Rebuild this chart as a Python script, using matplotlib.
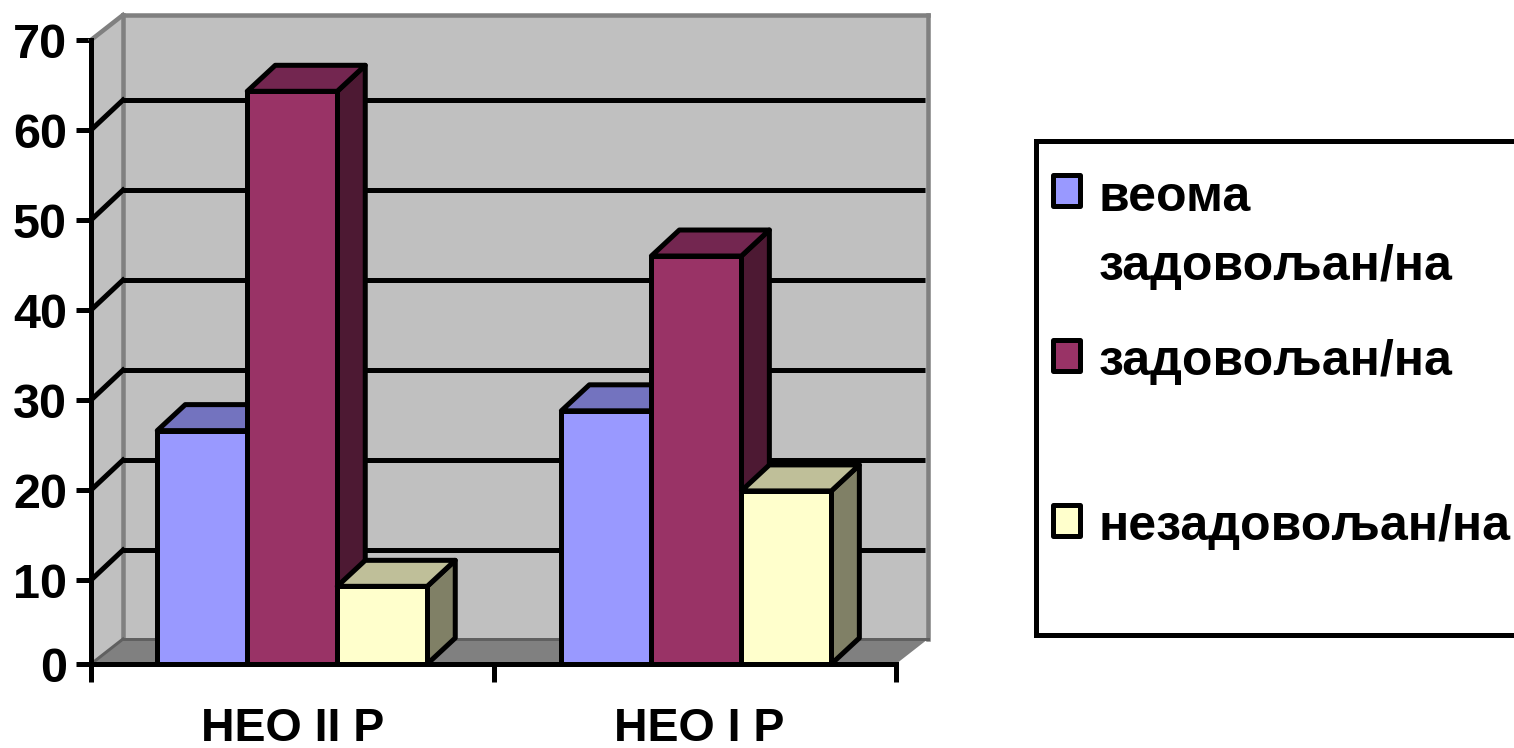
import matplotlib
matplotlib.use("Agg")
import matplotlib.pyplot as plt
from matplotlib.patches import Rectangle

# values
groups = ["НЕО II Р", "НЕО I Р"]
series = ["веома\nзадовољан/на", "задовољан/на", "незадовољан/на"]
vals_very = [26.6, 28.8]
vals_ok = [64.3, 46]
vals_not = [9.3, 19.9]
yticks = [10, 20, 30, 40, 50, 60, 70]

front = ["#9999FF", "#993366", "#FFFFCC"]
top = ["#7373BF", "#732650", "#BFBF99"]
side = ["#4D4D80", "#4D1933", "#808066"]

W, H = 1514, 748
px = 0.72  # points per pixel at dpi 100
lw = 5 * px

# the floor of the chart sits a little above the value 0
floor = 0.67

fig = plt.figure(figsize=(W / 100, H / 100), dpi=100, facecolor="white")
ax = fig.add_axes([91 / W, 1 - 664 / H, 805 / W, 624 / H])
ax.set_xlim(0, 2)
ax.set_ylim(floor, 70)
ax.patch.set_visible(False)

# pixel sizes turned into data units
ux = 2 / 805
uy = (70 - floor) / 624
wall_dx, wall_dy = 32 * ux, 25 * uy
grid_dy = 30 * uy
bar_dx, bar_dy = 28 * ux, 26 * uy
bar_w = 90 * ux

# walls and floor
ax.fill([0, wall_dx, wall_dx, 0], [floor, floor + wall_dy, 70 + wall_dy, 70], color="#C0C0C0", lw=0,
        clip_on=False, zorder=1)
ax.fill([wall_dx, 2 + wall_dx, 2 + wall_dx, wall_dx], [floor + wall_dy, floor + wall_dy, 70 + wall_dy, 70 + wall_dy],
        color="#C0C0C0", lw=0, clip_on=False, zorder=1)
ax.fill([0, 2, 2 + wall_dx, wall_dx], [floor, floor, floor + wall_dy, floor + wall_dy], color="#808080", lw=0,
        clip_on=False, zorder=1)
edge = dict(color="#808080", lw=4.5 * px, clip_on=False, zorder=2, solid_capstyle="projecting")
ax.plot([wall_dx, wall_dx], [floor + wall_dy, 70 + wall_dy], **edge)
ax.plot([wall_dx, 2 + wall_dx], [70 + wall_dy, 70 + wall_dy], **edge)
ax.plot([2 + wall_dx, 2 + wall_dx], [floor + wall_dy, 70 + wall_dy], **edge)
ax.plot([0, wall_dx], [70, 70 + wall_dy], **edge)
ax.plot([wall_dx, 2 + wall_dx], [floor + wall_dy, floor + wall_dy], color="#606060", lw=3 * px, clip_on=False, zorder=2)
ax.plot([0, wall_dx], [floor, floor + wall_dy], color="#606060", lw=3 * px, clip_on=False, zorder=2)

# gridlines run along the side wall and the back wall
for v in yticks[:-1]:
    ax.plot([0, wall_dx], [v, v + grid_dy], color="black", lw=lw, clip_on=False, zorder=3)
    ax.plot([wall_dx, 2 + wall_dx - 3 * ux], [v + grid_dy, v + grid_dy], color="black", lw=lw,
            clip_on=False, zorder=3, solid_capstyle="butt")

# bars
group_pos = [0.5, 1.504]
z = 4
for g in range(len(groups)):
    heights = [vals_very[g], vals_ok[g], vals_not[g]]
    left = group_pos[g] - 1.5 * bar_w
    for i, h in enumerate(heights):
        x0 = left + i * bar_w
        x1 = x0 + bar_w
        style = dict(edgecolor="black", lw=lw, clip_on=False, joinstyle="round", zorder=z)
        ax.fill([x1, x1 + bar_dx, x1 + bar_dx, x1], [floor, floor + bar_dy, h + bar_dy, h], facecolor=side[i], **style)
        ax.fill([x0, x1, x1 + bar_dx, x0 + bar_dx], [h, h, h + bar_dy, h + bar_dy], facecolor=top[i], **style)
        ax.bar(x0, h - floor, bottom=floor, width=bar_w, align="edge", color=front[i], **style)
        z += 1

# axes lines and ticks
for s in ["top", "right"]:
    ax.spines[s].set_visible(False)
for s in ["left", "bottom"]:
    ax.spines[s].set_linewidth(lw)
    ax.spines[s].set_zorder(20)
ax.set_yticks([floor] + yticks)
ax.set_yticklabels(["0"] + [str(v) for v in yticks])
ax.set_xticks([0, 1, 2])
ax.set_xticklabels([])
ax.set_xticks([0.5, 1.512], minor=True)
ax.set_xticklabels(groups, minor=True)
ax.tick_params(axis="y", length=15 * px, width=lw, pad=9 * px, labelsize=35)
ax.tick_params(axis="x", which="major", length=18 * px, width=lw)
ax.tick_params(axis="x", which="minor", length=0, pad=43 * px, labelsize=33.5)
for t in ax.get_yticklabels() + ax.get_xticklabels(minor=True):
    t.set_fontfamily("Liberation Sans")
    t.set_fontweight("bold")

# legend box, it runs off the right side of the picture
lg = fig.add_axes([0, 0, 1, 1])
lg.set_xlim(0, W)
lg.set_ylim(H, 0)
lg.axis("off")
lg.add_patch(Rectangle((1036, 141), 600, 494, facecolor="white", edgecolor="black", lw=lw))
marker_y = [175, 340, 505]
text_y = [280, 375, 540]
for i, name in enumerate(series):
    lg.add_patch(Rectangle((1053, marker_y[i]), 27, 31, facecolor=front[i], edgecolor="black", lw=lw,
                           joinstyle="round"))
    lg.text(1099, text_y[i], name, fontsize=36, fontweight="bold", family="Liberation Sans",
            va="baseline", ha="left", linespacing=1.65)

fig.savefig("out.png", dpi=100)
